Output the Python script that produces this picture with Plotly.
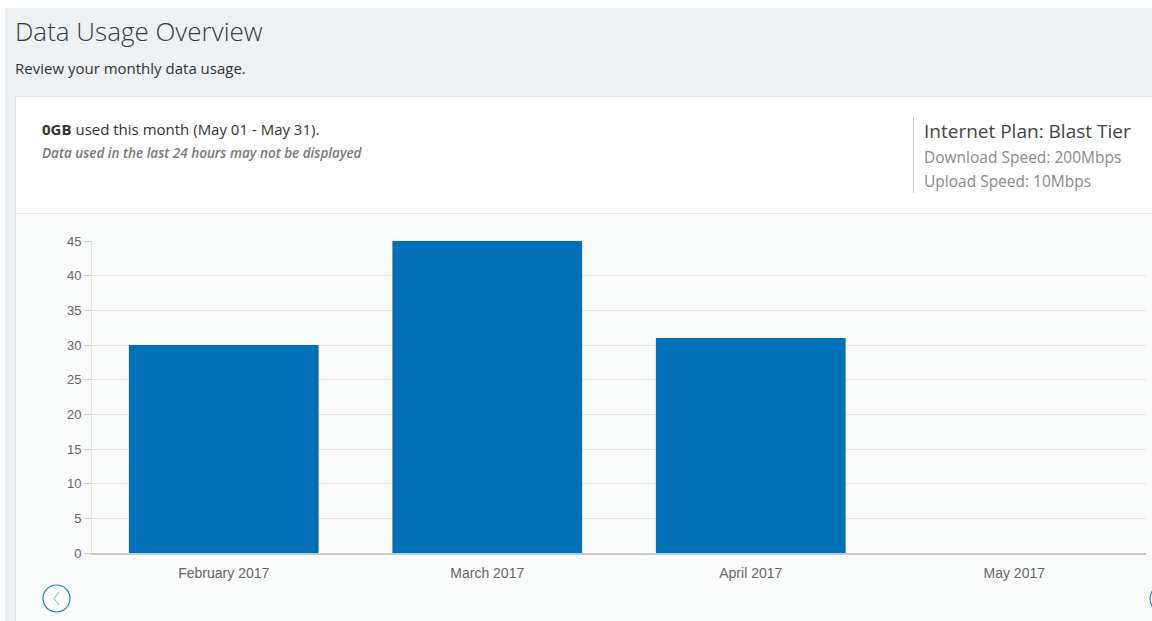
import plotly.graph_objects as go

W, H = 1152, 621

months = ["February 2017", "March 2017", "April 2017", "May 2017"]
usage_gb = [30, 45, 31, 0]
y_ticks = [0, 5, 10, 15, 20, 25, 30, 35, 40, 45]

def px(x):
    return x / W

def py(y):
    return 1 - y / H

fig = go.Figure()
fig.add_trace(go.Bar(
    x=months, y=usage_gb,
    marker=dict(color="#0070b8", line=dict(width=0)),
    hoverinfo="x+y",
))

shapes = [
    # page background
    dict(type="rect", xref="paper", yref="paper", x0=px(5), x1=px(W + 5), y0=py(H + 5), y1=py(8),
         fillcolor="#eef1f4", line=dict(width=0), layer="below"),
    # card
    dict(type="rect", xref="paper", yref="paper", x0=px(15.5), x1=px(W + 10), y0=py(H + 10), y1=py(96.5),
         fillcolor="#ffffff", line=dict(color="#e1e5e8", width=1), layer="below"),
    # chart region background
    dict(type="rect", xref="paper", yref="paper", x0=px(16), x1=px(W + 10), y0=py(H + 10), y1=py(213.5),
         fillcolor="#fafbfb", line=dict(width=0), layer="below"),
    # header separator
    dict(type="line", xref="paper", yref="paper", x0=px(16), x1=px(W), y0=py(213.5), y1=py(213.5),
         line=dict(color="#e4e7ea", width=1), layer="below"),
    # plan divider
    dict(type="line", xref="paper", yref="paper", x0=px(913.5), x1=px(913.5), y0=py(117), y1=py(193),
         line=dict(color="#c8c8c8", width=1)),
    # prev button
    dict(type="circle", xref="paper", yref="paper", x0=px(43), x1=px(70), y0=py(612), y1=py(585),
         fillcolor="#ffffff", line=dict(color="#2d7fc1", width=1.2)),
    dict(type="path", xref="paper", yref="paper",
         path=f"M {px(59)} {py(592)} L {px(54)} {py(598.5)} L {px(59)} {py(605)}",
         line=dict(color="#7aa9d3", width=1)),
    # next button (mostly off-screen)
    dict(type="circle", xref="paper", yref="paper", x0=px(1150), x1=px(1177), y0=py(612), y1=py(585),
         fillcolor="#ffffff", line=dict(color="#2d7fc1", width=1.2)),
]

def ann(x, y, text, size, color, family="Open Sans", weight=None, style=None):
    f = dict(size=size, color=color, family=family)
    if weight is not None:
        f["weight"] = weight
    if style is not None:
        f["style"] = style
    return dict(xref="paper", yref="paper", x=px(x), y=py(y), text=text, showarrow=False,
                xanchor="left", yanchor="middle", font=f, borderpad=0)

annotations = [
    ann(14, 31, "Data Usage Overview", 26, "#3a3a3a", weight=300),
    ann(14, 68, "Review your monthly data usage.", 15, "#333333"),
    ann(41, 129, "<b>0GB</b> used this month (May 01 - May 31).", 15, "#333333"),
    ann(41, 153, "Data used in the last 24 hours may not be displayed", 13.5, "#7a7a7a", weight=600, style="italic"),
    ann(923, 131, "Internet Plan: Blast Tier", 19, "#444444"),
    ann(923, 157, "Download Speed: 200Mbps", 15.5, "#8a8a8a"),
    ann(923, 181, "Upload Speed: 10Mbps", 15.5, "#8a8a8a"),
]

fig.update_layout(
    width=W, height=H,
    margin=dict(l=0, r=0, t=0, b=0, autoexpand=False),
    paper_bgcolor="#ffffff",
    plot_bgcolor="rgba(0,0,0,0)",
    showlegend=False,
    bargap=0.28,
    shapes=shapes,
    annotations=annotations,
    font=dict(family="Liberation Sans, Arial, sans-serif", color="#666666"),
    xaxis=dict(
        domain=[px(92), px(1146)],
        automargin=False,
        showgrid=False,
        showline=True, linecolor="#c8c8c8", linewidth=1.5,
        ticks="", ticklabelstandoff=6,
        tickfont=dict(size=14, color="#666666"),
        fixedrange=True,
    ),
    yaxis=dict(
        domain=[py(553), py(241)],
        automargin=False,
        range=[0, 45],
        tickvals=y_ticks,
        showgrid=True, gridcolor="#e6e6e6", gridwidth=1,
        zeroline=False,
        showline=True, linecolor="#e6e6e6", linewidth=1,
        ticks="outside", ticklen=7, tickcolor="#cccccc",
        tickfont=dict(size=13, color="#666666"),
        fixedrange=True,
    ),
)

fig.write_html("out.html", config={"displayModeBar": False},
               post_script="document.body.style.margin='0';document.body.style.overflow='hidden';")
